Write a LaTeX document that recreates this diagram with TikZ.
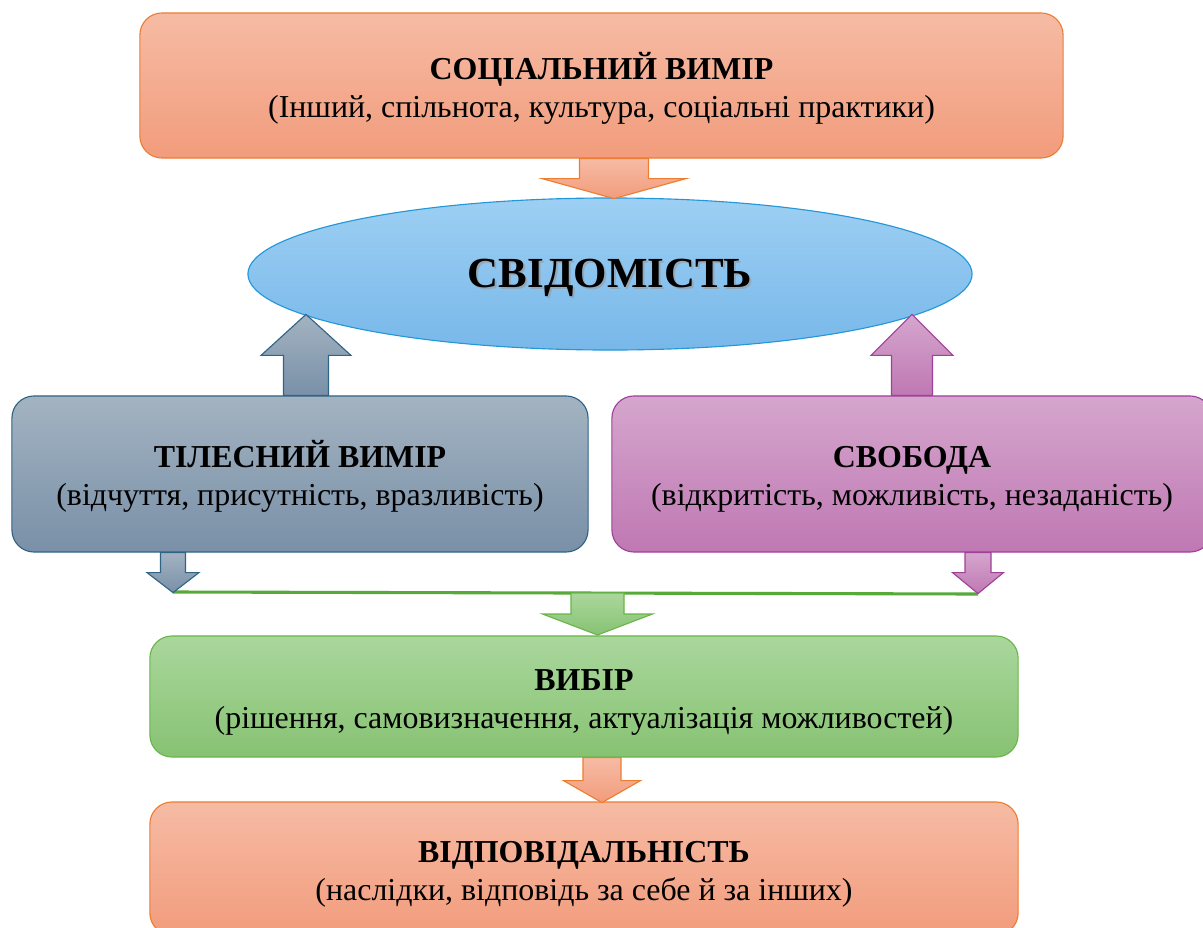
\documentclass[tikz,border=0pt]{standalone}
\usepackage{fontspec}
\setmainfont{Liberation Serif}
\usetikzlibrary{shapes.geometric,positioning,calc}

\definecolor{orangetop}{HTML}{F6BBA4}
\definecolor{orangebot}{HTML}{F29C7C}
\definecolor{orangeline}{HTML}{ED7D31}
\definecolor{bluetop}{HTML}{9DCFF3}
\definecolor{bluebot}{HTML}{78B8EA}
\definecolor{blueline}{HTML}{2497D8}
\definecolor{graytop}{HTML}{A3B3C1}
\definecolor{graybot}{HTML}{7990A8}
\definecolor{grayline}{HTML}{2F6486}
\definecolor{pinktop}{HTML}{D5A6CD}
\definecolor{pinkbot}{HTML}{BF78B3}
\definecolor{pinkline}{HTML}{A0409A}
\definecolor{greentop}{HTML}{AAD79C}
\definecolor{greenbot}{HTML}{87C273}
\definecolor{greenline}{HTML}{6AB54A}
\definecolor{joinline}{HTML}{58AA38}

% block arrow: style, base point, shaft half width, head half width, shaft end, tip
\newcommand{\blkarrow}[6]{%
  \draw[#1,shift={(#2)}] (-#3,0) -- (-#3,#5) -- (-#4,#5) -- (0,#6)
    -- (#4,#5) -- (#3,#5) -- (#3,0) -- cycle;}
% bold first line, pushed a little down
\newcommand{\boxtitle}[1]{\rule{0pt}{23pt}\textbf{#1}}

\begin{document}
\begin{tikzpicture}[
    x=0.025cm, y=-0.025cm,
    box/.style={
        rectangle, rounded corners=0.55cm,
        line width=0.8pt,
        inner sep=0pt,
        align=center,
        font=\fontsize{22.7}{27}\selectfont
    },
    orangebox/.style={box, draw=orangeline, top color=orangetop, bottom color=orangebot},
    graybox/.style={box, draw=grayline, top color=graytop, bottom color=graybot},
    pinkbox/.style={box, draw=pinkline, top color=pinktop, bottom color=pinkbot},
    greenbox/.style={box, draw=greenline, top color=greentop, bottom color=greenbot},
    orangearr/.style={draw=orangeline, line width=0.8pt, top color=orangetop, bottom color=orangebot},
    grayarr/.style={draw=grayline, line width=0.8pt, top color=graytop, bottom color=graybot},
    pinkarr/.style={draw=pinkline, line width=0.8pt, top color=pinktop, bottom color=pinkbot},
    greenarr/.style={draw=greenline, line width=0.8pt, top color=greentop, bottom color=greenbot},
    bigtext/.style={font=\fontsize{30.5}{36}\selectfont\bfseries}
]
\useasboundingbox (0,0) rectangle (1203,927);

% boxes
\node[orangebox, minimum width=23.075cm, minimum height=3.625cm] (soc) at (601.5,85.5)
    {\boxtitle{СОЦІАЛЬНИЙ ВИМІР}\\(Інший, спільнота, культура, соціальні практики)};
\node[ellipse, draw=blueline, line width=0.8pt, top color=bluetop, bottom color=bluebot,
      minimum width=18.1cm, minimum height=3.8cm, inner sep=0pt] (svid) at (610,274) {};
\node[bigtext, text=black!40, opacity=0.6] (svidsh) at ($(svid.center)+(2,6)$) {СВІДОМІСТЬ};
\node[bigtext] (svidtxt) at ($(svid.center)+(0,4)$) {СВІДОМІСТЬ};
\node[graybox, minimum width=14.4cm, minimum height=3.9cm] (tilo) at (300,474)
    {\boxtitle{ТІЛЕСНИЙ ВИМІР}\\(відчуття, присутність, вразливість)};
\node[pinkbox, minimum width=15cm, minimum height=3.9cm] (svob) at (912,474)
    {\boxtitle{СВОБОДА}\\(відкритість, можливість, незаданість)};
\node[greenbox, minimum width=21.7cm, minimum height=3.025cm] (vybir) at (584,696.5)
    {\boxtitle{ВИБІР}\\(рішення, самовизначення, актуалізація можливостей)};
\node[orangebox, minimum width=21.7cm, minimum height=3.325cm] (vidp) at (584,868.5)
    {\boxtitle{ВІДПОВІДАЛЬНІСТЬ}\\(наслідки, відповідь за себе й за інших)};

% join line
\coordinate (jl) at (173,592);
\coordinate (jr) at (978,594);
\coordinate (jm) at (597.5,593);
\draw[joinline, line width=2.2pt] (jl) -- (jr);

% arrows
\blkarrow{orangearr}{soc.south -| 614,0}{34.5}{72}{20}{40}
\blkarrow{grayarr}{$(tilo.north)+(6,0)$}{22.5}{45}{-40}{-81}
\blkarrow{pinkarr}{svob.north}{20.5}{41}{-40}{-81}
\blkarrow{grayarr}{tilo.south -| jl}{12.5}{26}{20}{40}
\blkarrow{pinkarr}{svob.south -| jr}{13}{25.5}{20}{41}
\blkarrow{greenarr}{jm}{26.5}{55}{21}{42}
\blkarrow{orangearr}{$(vybir.south)+(18,0)$}{19}{38.5}{23}{45}
\end{tikzpicture}
\end{document}
